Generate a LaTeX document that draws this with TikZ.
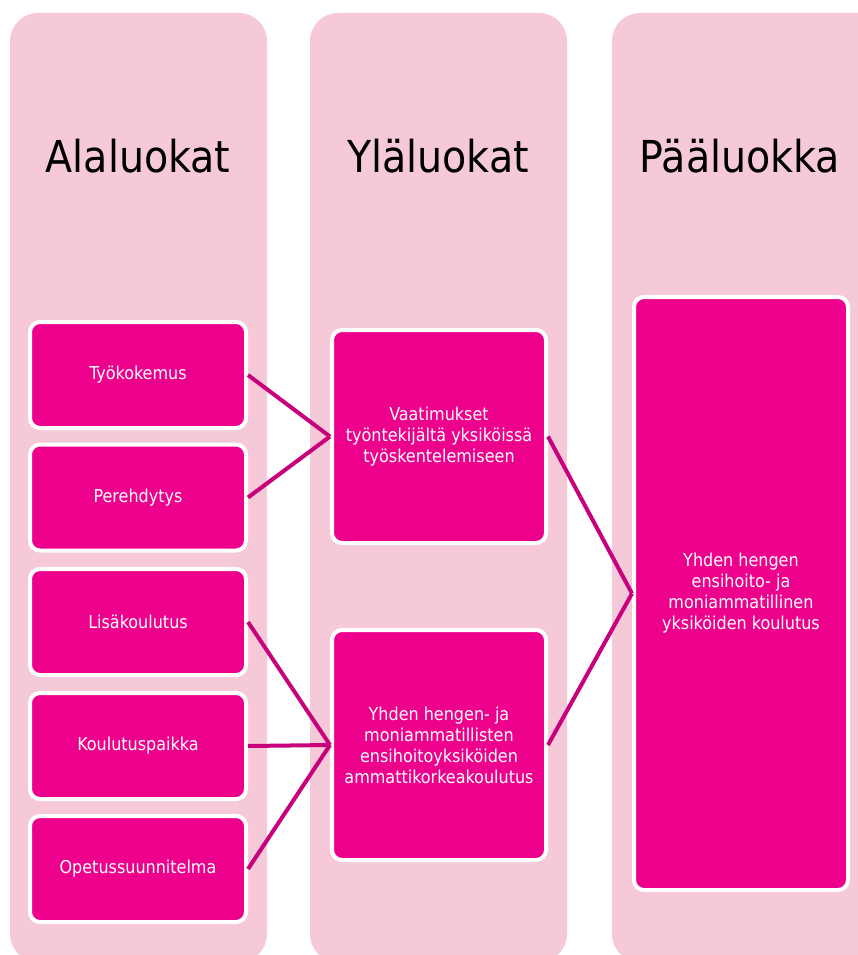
\documentclass[tikz,border=0pt]{standalone}
\usepackage{fontspec}
\setmainfont{DejaVu Sans Condensed}
\definecolor{colbg}{HTML}{F6C9D9}
\definecolor{boxfill}{HTML}{EC008C}
\definecolor{conn}{HTML}{C8007C}
\tikzset{
  column/.style={fill=colbg, rounded corners=28pt},
  head/.style={anchor=base, font=\fontsize{44}{52}\selectfont, text=black},
  catbox/.style={draw=white, line width=4pt, fill=boxfill, rounded corners=10pt,
    text=white, align=center, font=\fontsize{17.8}{21}\selectfont, inner sep=0pt},
  leftbox/.style={catbox, minimum width=216pt, minimum height=106pt},
  link/.style={draw=conn, line width=4pt}
}
\begin{document}
\begin{tikzpicture}[x=1pt,y=-1pt]
\useasboundingbox (0,0) rectangle (858,955);
\clip (0,0) rectangle (858,955);
\fill[white] (0,0) rectangle (858,955);
% columns
\path[column] (10,13) rectangle (267,962);
\path[column] (310,13) rectangle (567,962);
\path[column] (612,13) rectangle (890,962);
% headings
\node[head] (h1) at (138,172) {Alaluokat};
\node[head] (h2) at (438,172) {Yläluokat};
\node[head] (h3) at (740,172) {Pääluokka};
% left boxes
\node[leftbox] (l1) at (138,375) {Työkokemus};
\node[leftbox] (l2) at (138,497.5) {Perehdytys};
\node[leftbox] (l3) at (138,622) {Lisäkoulutus};
\node[leftbox] (l4) at (138,746) {Koulutuspaikka};
\node[leftbox] (l5) at (138,869) {Opetussuunnitelma};
% middle boxes
\node[catbox, minimum width=214pt, minimum height=213pt] (m1) at (439,436.5)
  {Vaatimukset\\työntekijältä yksiköissä\\työskentelemiseen};
\node[catbox, minimum width=214pt, minimum height=230pt] (m2) at (439,745)
  {Yhden hengen- ja\\moniammatillisten\\ensihoitoyksiköiden\\ammattikorkeakoulutus};
% right box
\node[catbox, minimum width=214pt, minimum height=593pt] (r1) at (741,593.5)
  {Yhden hengen\\ensihoito- ja\\moniammatillinen\\yksiköiden koulutus};
% connectors
\draw[link] (l1.east) -- (m1.west);
\draw[link] (l2.east) -- (m1.west);
\draw[link] (l3.east) -- (m2.west);
\draw[link] (l4.east) -- (m2.west);
\draw[link] (l5.east) -- (m2.west);
\draw[link] (m1.east) -- (r1.west);
\draw[link] (m2.east) -- (r1.west);
\end{tikzpicture}
\end{document}
